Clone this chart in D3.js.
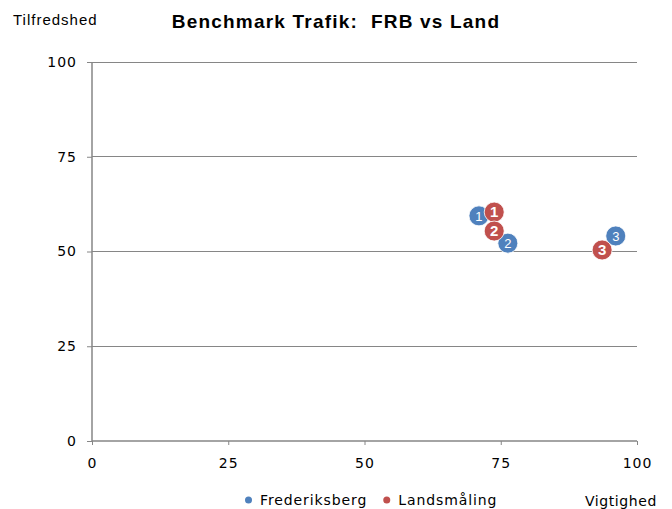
<!DOCTYPE html>
<html><head><meta charset="utf-8">
<script src="https://cdn.jsdelivr.net/npm/d3@7/dist/d3.min.js"></script>
<style>body{margin:0;background:#fff}svg{display:block}</style>
</head><body>
<script>
const seriesNames = ["Frederiksberg", "Landsmåling"];
const seriesColors = ["#4F81BD", "#C0504D"];
const pointLabels = ["1", "2", "3"];
const frbX = [71.0, 76.3, 96.1];
const frbY = [59.4, 52.2, 54.1];
const landX = [73.8, 73.8, 93.6];
const landY = [60.4, 55.4, 50.4];
const xTicks = [0, 25, 50, 75, 100];
const yTicks = [0, 25, 50, 75, 100];

const W = 672, H = 509;
const svg = d3.select("body").append("svg").attr("width", W).attr("height", H);
const x = d3.scaleLinear().domain([0, 100]).range([92, 637]);
const y = d3.scaleLinear().domain([0, 100]).range([441, 62]);
const grid = "#868686";
const tickFont = "'DejaVu Sans', Verdana, sans-serif";

// gridlines
svg.append("g").selectAll("line").data(yTicks.filter(d => d > 0)).join("line")
  .attr("x1", x(0)).attr("x2", x(100)).attr("y1", d => y(d)).attr("y2", d => y(d))
  .attr("stroke", grid).attr("stroke-width", 1).attr("shape-rendering", "crispEdges");

// y axis
const yAxis = svg.append("g").attr("transform", `translate(${x(0)},0)`)
  .call(d3.axisLeft(y).tickValues(yTicks).tickSize(5).tickPadding(10));
// x axis
const xAxis = svg.append("g").attr("transform", `translate(0,${y(0)})`)
  .call(d3.axisBottom(x).tickValues(xTicks).tickSize(4).tickPadding(13));
[yAxis, xAxis].forEach(a => {
  a.select(".domain").attr("stroke", grid).attr("stroke-width", 1.5);
  a.selectAll(".tick line").attr("stroke", grid);
  a.selectAll("text").attr("fill", "#000").style("font-family", tickFont)
    .style("font-size", "14px").style("letter-spacing", "1px");
});
yAxis.select(".domain").attr("d", `M0,${y(0)}V${y(100)}`);
xAxis.select(".domain").attr("d", `M${x(0)},0H${x(100)}`);

// title & axis titles
svg.append("text").attr("x", 336).attr("y", 28).attr("text-anchor", "middle")
  .attr("xml:space", "preserve").style("white-space", "pre")
  .style("font-family", "'Liberation Sans', Arial, sans-serif").style("font-weight", "bold")
  .style("font-size", "19px").style("letter-spacing", "1.2px")
  .text("Benchmark Trafik:  FRB vs Land");
svg.append("text").attr("x", 13).attr("y", 25)
  .style("font-family", "'Liberation Sans', Arial, sans-serif").style("font-size", "15px")
  .style("letter-spacing", "1px").text("Tilfredshed");
svg.append("text").attr("x", 657).attr("y", 506).attr("text-anchor", "end")
  .style("font-family", tickFont).style("font-size", "14px").style("letter-spacing", "0.6px").text("Vigtighed");

// points
const series = [
  {xs: frbX, ys: frbY, color: seriesColors[0]},
  {xs: landX, ys: landY, color: seriesColors[1]}
];
series.forEach((s, si) => {
  const pts = s.xs.map((v, i) => ({x: v, y: s.ys[i], label: pointLabels[i]}));
  const g = svg.append("g").selectAll("g").data(pts).join("g")
    .attr("transform", d => `translate(${x(d.x)},${y(d.y)})`);
  g.append("circle").attr("r", 10).attr("fill", s.color).attr("stroke", "#fff").attr("stroke-width", 0.8);
  g.append("text").attr("text-anchor", "middle").attr("dy", "0.36em")
    .attr("fill", "#fff")
    .style("font-family", "'Liberation Sans', Arial, sans-serif")
    .style("font-size", si === 1 ? "15px" : "13px")
    .style("font-weight", si === 1 ? "bold" : "normal")
    .text(d => d.label);
});

// legend
const leg = svg.append("g").attr("transform", "translate(245,505)");
let lx = 0;
seriesNames.forEach((n, i) => {
  leg.append("circle").attr("cx", lx + 3.5).attr("cy", -5).attr("r", 3.5).attr("fill", seriesColors[i]);
  const t = leg.append("text").attr("x", lx + 15).attr("y", 0)
    .style("font-family", tickFont).style("font-size", "14px").style("letter-spacing", "0.9px").text(n);
  lx += 15 + t.node().getComputedTextLength() + 16;
});
</script>
</body></html>
